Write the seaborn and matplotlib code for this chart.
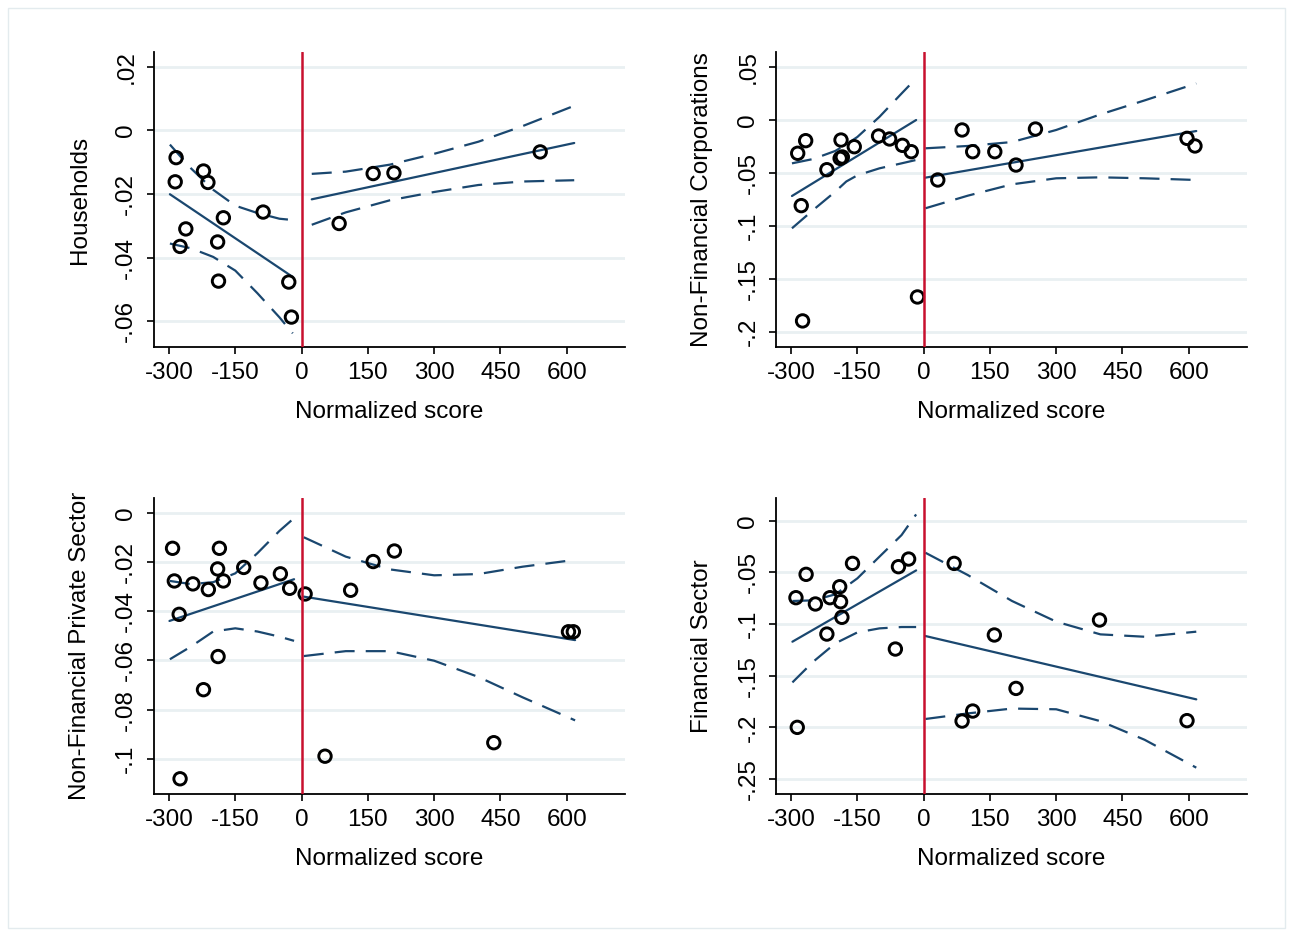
import numpy as np
import pandas as pd
import matplotlib.pyplot as plt
import matplotlib.patches as mpatches
import seaborn as sns

# ---- scatter points ----
hh_x = [-284, -222, -286, -212, -87, -177, -262, -275, -190, -188, -29, -23, 85, 162, 209, 540]
hh_y = [-0.0086, -0.0128, -0.0162, -0.0164, -0.0257, -0.0275, -0.0310, -0.0365, -0.0351, -0.0474,
        -0.0477, -0.0587, -0.0293, -0.0136, -0.0134, -0.0068]

nfc_x = [-285, -267, -277, -274, -219, -189, -184, -187, -157, -102, -77, -48, -28, -14,
         32, 87, 111, 161, 209, 253, 596, 614]
nfc_y = [-0.0314, -0.0195, -0.0808, -0.1896, -0.0469, -0.0362, -0.0349, -0.0189, -0.0252, -0.0151,
         -0.0179, -0.0239, -0.0299, -0.1670, -0.0566, -0.0094, -0.0299, -0.0299, -0.0425, -0.0085,
         -0.0173, -0.0245]

nfps_x = [-292, -186, -288, -246, -211, -190, -177, -131, -92, -48, -27, -277, -189, -222, -275,
          8, 53, 111, 162, 210, 435, 604, 615]
nfps_y = [-0.0143, -0.0143, -0.0276, -0.0288, -0.0311, -0.0227, -0.0276, -0.0221, -0.0284, -0.0247,
          -0.0306, -0.0412, -0.0584, -0.0719, -0.1082, -0.0329, -0.0990, -0.0314, -0.0197, -0.0154,
          -0.0935, -0.0483, -0.0483]

fin_x = [-289, -266, -245, -212, -190, -188, -185, -219, -161, -57, -34, -64, -286,
         69, 160, 209, 111, 87, 398, 596]
fin_y = [-0.0745, -0.0519, -0.0806, -0.0745, -0.0639, -0.0784, -0.0935, -0.1097, -0.0413, -0.0445,
         -0.0371, -0.1242, -0.2000, -0.0413, -0.1106, -0.1623, -0.1842, -0.1939, -0.0961, -0.1935]

# ---- fitted lines (end points) and 95% CI bounds, left / right of cutoff ----
hh_fit_lx, hh_fit_ly = [-298, -20], [-0.0201, -0.0461]
hh_fit_rx, hh_fit_ry = [23, 617], [-0.0217, -0.0040]
hh_ci_lx = [-298, -250, -200, -150, -100, -50, -20]
hh_ci_lu = [-0.0045, -0.0120, -0.0187, -0.0237, -0.0260, -0.0278, -0.0282]
hh_ci_ll = [-0.0356, -0.0371, -0.0398, -0.0441, -0.0512, -0.0588, -0.0638]
hh_ci_rx = [23, 100, 200, 300, 400, 500, 617]
hh_ci_ru = [-0.0137, -0.0130, -0.0108, -0.0074, -0.0036, 0.0013, 0.0077]
hh_ci_rl = [-0.0297, -0.0258, -0.0220, -0.0194, -0.0172, -0.0161, -0.0157]

nfc_fit_lx, nfc_fit_ly = [-298, -17], [-0.0717, 0.0000]
nfc_fit_rx, nfc_fit_ry = [4, 617], [-0.0544, -0.0104]
nfc_ci_lx = [-298, -250, -200, -175, -150, -100, -50, -17]
nfc_ci_lu = [-0.0409, -0.0368, -0.0292, -0.0230, -0.0160, 0.0030, 0.0250, 0.0393]
nfc_ci_ll = [-0.1022, -0.0849, -0.0676, -0.0580, -0.0522, -0.0456, -0.0409, -0.0377]
nfc_ci_rx = [4, 100, 200, 300, 400, 500, 617]
nfc_ci_ru = [-0.0267, -0.0245, -0.0208, -0.0094, 0.0053, 0.0185, 0.0345]
nfc_ci_rl = [-0.0833, -0.0714, -0.0607, -0.0550, -0.0541, -0.0550, -0.0566]

nfps_fit_lx, nfps_fit_ly = [-299, -17], [-0.0439, -0.0269]
nfps_fit_rx, nfps_fit_ry = [5, 619], [-0.0340, -0.0517]
nfps_ci_lx = [-298, -250, -200, -150, -100, -50, -17]
nfps_ci_lu = [-0.0276, -0.0289, -0.0281, -0.0245, -0.0163, -0.0072, -0.0020]
nfps_ci_ll = [-0.0595, -0.0543, -0.0482, -0.0469, -0.0482, -0.0503, -0.0520]
nfps_ci_rx = [5, 100, 200, 300, 400, 500, 619]
nfps_ci_ru = [-0.0098, -0.0177, -0.0229, -0.0253, -0.0248, -0.0218, -0.0190]
nfps_ci_rl = [-0.0582, -0.0562, -0.0562, -0.0601, -0.0667, -0.0750, -0.0844]

fin_fit_lx, fin_fit_ly = [-297, -17], [-0.1171, -0.0481]
fin_fit_rx, fin_fit_ry = [4, 617], [-0.1116, -0.1729]
fin_ci_lx = [-297, -250, -200, -150, -100, -50, -17]
fin_ci_lu = [-0.0777, -0.0771, -0.0713, -0.0558, -0.0348, -0.0139, 0.0061]
fin_ci_ll = [-0.1565, -0.1365, -0.1187, -0.1081, -0.1042, -0.1029, -0.1029]
fin_ci_rx = [4, 100, 200, 300, 400, 500, 617]
fin_ci_ru = [-0.0310, -0.0526, -0.0777, -0.0977, -0.1100, -0.1123, -0.1074]
fin_ci_rl = [-0.1919, -0.1865, -0.1818, -0.1825, -0.1940, -0.2120, -0.2390]

# ---- axes text ----
x_ticks = [-300, -150, 0, 150, 300, 450, 600]
x_ticklabels = ['-300', '-150', '0', '150', '300', '450', '600']
hh_yticks, hh_ylabels = [0.02, 0, -0.02, -0.04, -0.06], ['.02', '0', '-.02', '-.04', '-.06']
nfc_yticks, nfc_ylabels = [0.05, 0, -0.05, -0.1, -0.15, -0.2], ['.05', '0', '-.05', '-.1', '-.15', '-.2']
nfps_yticks, nfps_ylabels = [0, -0.02, -0.04, -0.06, -0.08, -0.1], ['0', '-.02', '-.04', '-.06', '-.08', '-.1']
fin_yticks, fin_ylabels = [0, -0.05, -0.1, -0.15, -0.2, -0.25], ['0', '-.05', '-.1', '-.15', '-.2', '-.25']

NAVY = '#1a476f'
RED = '#c8102e'
GRID = '#e9f0f2'

sns.set_theme(style='white')
plt.rcParams['font.family'] = ['Liberation Sans', 'DejaVu Sans']
plt.rcParams['axes.unicode_minus'] = False

fig = plt.figure(figsize=(12.93, 9.35), dpi=100)
fig.patch.set_facecolor('white')
fig.patches.append(mpatches.Rectangle((0.006, 0.007), 0.988, 0.984, transform=fig.transFigure,
                                      fill=False, edgecolor='#e3ebee', lw=1.0))

panels = [
    ('Households', [0.1191, 0.6289, 0.3643, 0.3155], (-0.0681, 0.0246), hh_x, hh_y,
     hh_fit_lx, hh_fit_ly, hh_fit_rx, hh_fit_ry,
     hh_ci_lx, hh_ci_lu, hh_ci_ll, hh_ci_rx, hh_ci_ru, hh_ci_rl, hh_yticks, hh_ylabels),
    ('Non-Financial Corporations', [0.6002, 0.6289, 0.3643, 0.3155], (-0.2142, 0.0642), nfc_x, nfc_y,
     nfc_fit_lx, nfc_fit_ly, nfc_fit_rx, nfc_fit_ry,
     nfc_ci_lx, nfc_ci_lu, nfc_ci_ll, nfc_ci_rx, nfc_ci_ru, nfc_ci_rl, nfc_yticks, nfc_ylabels),
    ('Non-Financial Private Sector', [0.1191, 0.1508, 0.3643, 0.3166], (-0.1144, 0.0062), nfps_x, nfps_y,
     nfps_fit_lx, nfps_fit_ly, nfps_fit_rx, nfps_fit_ry,
     nfps_ci_lx, nfps_ci_lu, nfps_ci_ll, nfps_ci_rx, nfps_ci_ru, nfps_ci_rl, nfps_yticks, nfps_ylabels),
    ('Financial Sector', [0.6002, 0.1508, 0.3643, 0.3166], (-0.2645, 0.022), fin_x, fin_y,
     fin_fit_lx, fin_fit_ly, fin_fit_rx, fin_fit_ry,
     fin_ci_lx, fin_ci_lu, fin_ci_ll, fin_ci_rx, fin_ci_ru, fin_ci_rl, fin_yticks, fin_ylabels),
]

dash = (0, (9, 5))

for (name, pos, ylim, px, py, flx, fly, frx, fry,
     clx, clu, cll, crx, cru, crl, yt, ytl) in panels:
    ax = fig.add_axes(pos)
    ax.set_facecolor('white')

    # gridlines first, under everything
    for v in yt:
        ax.axhline(v, color=GRID, lw=2, zorder=0)

    # CI bounds (dashed) and fitted lines (solid)
    for cx, cy in [(clx, clu), (clx, cll), (crx, cru), (crx, crl)]:
        sns.lineplot(x=cx, y=cy, ax=ax, color=NAVY, lw=1.6, linestyle=dash,
                     sort=False, estimator=None, zorder=2)
    for fx, fy in [(flx, fly), (frx, fry)]:
        sns.lineplot(x=fx, y=fy, ax=ax, color=NAVY, lw=1.6,
                     sort=False, estimator=None, zorder=2)

    df = pd.DataFrame({'score': px, 'value': py})
    sns.scatterplot(data=df, x='score', y='value', ax=ax, s=80, marker='o',
                    facecolors='none', edgecolor='black', linewidth=2.1, zorder=3)

    ax.axvline(0, color=RED, lw=1.8, zorder=4)

    ax.set_xlim(-334, 732)
    ax.set_ylim(*ylim)
    ax.set_xticks(x_ticks)
    ax.set_xticklabels(x_ticklabels)
    ax.set_yticks(yt)
    ax.set_yticklabels(ytl)
    ax.tick_params(axis='both', which='major', labelsize=17.5, length=5, width=1.2,
                   color='black', labelcolor='black', bottom=True, left=True, pad=6)
    ax.tick_params(axis='y', labelrotation=90, pad=7)
    for lab in ax.get_yticklabels():
        lab.set_va('center')

    for side in ['top', 'right']:
        ax.spines[side].set_visible(False)
    for side in ['left', 'bottom']:
        ax.spines[side].set_color('black')
        ax.spines[side].set_linewidth(1.3)

    ax.set_xlabel('Normalized score', fontsize=17.5, color='black')
    ax.set_ylabel(name, fontsize=17.5, color='black')
    ax.xaxis.label.set_va('center')
    ax.yaxis.label.set_va('center')
    ax.xaxis.set_label_coords(0.5, -0.22)
    ax.yaxis.set_label_coords(-0.157, 0.5)

fig.savefig('out.png', dpi=100, facecolor='white')
